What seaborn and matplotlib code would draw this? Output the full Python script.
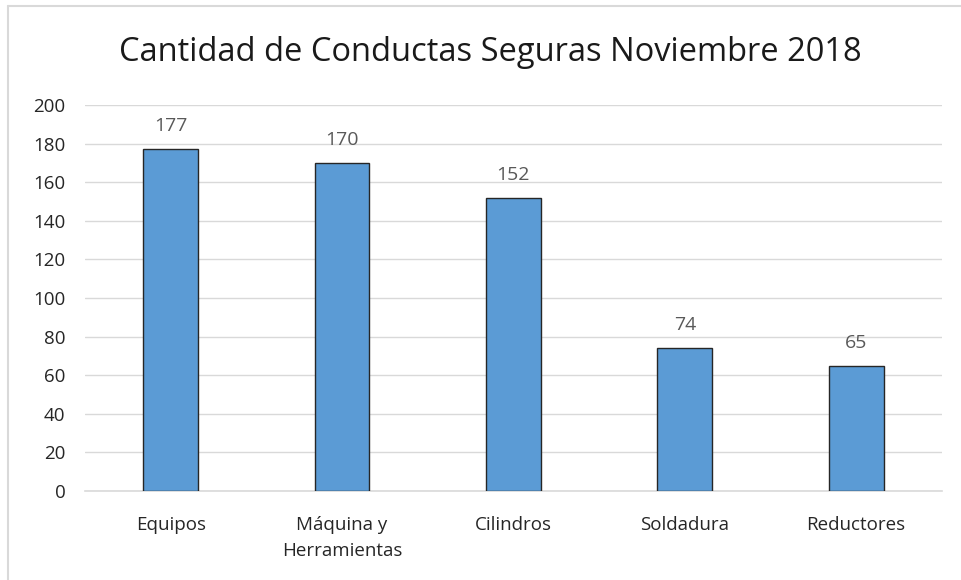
import matplotlib
matplotlib.use("Agg")
import matplotlib.pyplot as plt
import seaborn as sns
import pandas as pd
from matplotlib.lines import Line2D

categorias = ["Equipos", "Máquina y\nHerramientas", "Cilindros", "Soldadura", "Reductores"]
valores = [177, 170, 152, 74, 65]
ticks_y = [0, 20, 40, 60, 80, 100, 120, 140, 160, 180, 200]
titulo = "Cantidad de Conductas Seguras Noviembre 2018"

sns.set_theme(style="white")
plt.rcParams["font.family"] = ["Open Sans", "DejaVu Sans"]

df = pd.DataFrame({"categoria": categorias, "valor": valores})

fig = plt.figure(figsize=(9.61, 5.80), dpi=100)
ax = fig.add_axes([0.0885, 0.1534, 0.8915, 0.6656])

sns.barplot(data=df, x="categoria", y="valor", ax=ax, color="#5B9BD5",
            saturation=1, width=0.32, edgecolor="#262626", linewidth=1.0, zorder=3)

ax.set_ylim(0, 200)
ax.set_xlim(-0.5, len(categorias) - 0.5)
ax.set_yticks(ticks_y)
ax.set_yticklabels([str(t) for t in ticks_y])
ax.yaxis.grid(True, color="#d9d9d9", linewidth=1.0, zorder=0)
ax.set_axisbelow(True)
for s in ["top", "right", "left"]:
    ax.spines[s].set_visible(False)
ax.spines["bottom"].set_color("#d9d9d9")
ax.spines["bottom"].set_linewidth(1.2)
ax.tick_params(axis="both", length=0, labelsize=13.5, colors="#262626")
ax.tick_params(axis="y", pad=14)
ax.tick_params(axis="x", pad=18)
for lbl in ax.get_xticklabels():
    lbl.set_linespacing(1.55)
ax.set_xlabel("")
ax.set_ylabel("")

for container in ax.containers:
    ax.bar_label(container, labels=[str(v) for v in valores], padding=10,
                 fontsize=14, color="#595959")

fig.text(0.51, 0.91, titulo, ha="center", va="center", fontsize=23.5, color="#1a1a1a")

# light chart-area frame
fig.add_artist(Line2D([8 / 961, 8 / 961], [0, 1 - 6 / 580], transform=fig.transFigure,
                      color="#d9d9d9", linewidth=1.5))
fig.add_artist(Line2D([8 / 961, 1], [1 - 6 / 580, 1 - 6 / 580], transform=fig.transFigure,
                      color="#d9d9d9", linewidth=1.5))

fig.savefig("out.png", dpi=100, facecolor="white")
